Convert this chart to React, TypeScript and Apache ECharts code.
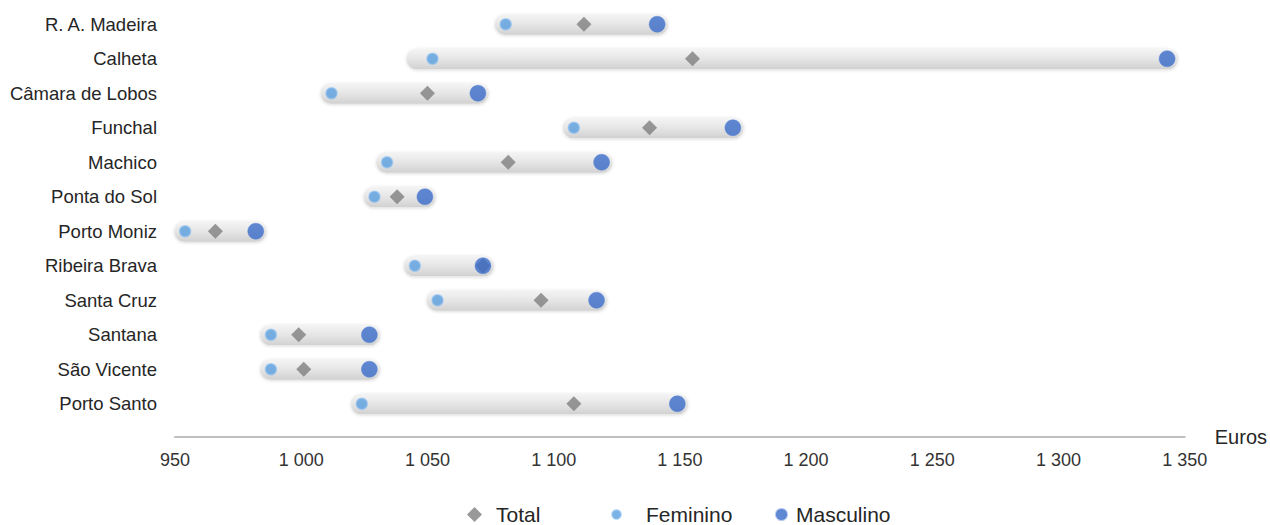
import React, { useEffect, useRef } from "react";
import * as echarts from "echarts";

const categories = [
  "R. A. Madeira",
  "Calheta",
  "Câmara de Lobos",
  "Funchal",
  "Machico",
  "Ponta do Sol",
  "Porto Moniz",
  "Ribeira Brava",
  "Santa Cruz",
  "Santana",
  "São Vicente",
  "Porto Santo",
];

const totalValues = [1112, 1155, 1050, 1138, 1082, 1038, 966, 1072, 1095, 999, 1001, 1108];
const femininoValues = [1081, 1052, 1012, 1108, 1034, 1029, 954, 1045, 1054, 988, 988, 1024];
const masculinoValues = [1141, 1343, 1070, 1171, 1119, 1049, 982, 1072, 1117, 1027, 1027, 1149];

// range band (grey capsule) start / end
const rangeLow = [1081, 1046, 1012, 1108, 1034, 1029, 954, 1045, 1054, 988, 988, 1024];
const rangeHigh = [1141, 1343, 1070, 1171, 1119, 1049, 982, 1072, 1117, 1027, 1027, 1149];

const xTicks = { min: 950, max: 1350, interval: 50 };

const FONT = "'Liberation Sans', Arial, sans-serif";

function fmt(v: number): string {
  if (v >= 1000) {
    return Math.floor(v / 1000) + " " + String(v % 1000).padStart(3, "0");
  }
  return String(v);
}

function legendItem(name: string, icon: string, size: number, left: number, gap: number) {
  return {
    data: [{ name, icon }],
    left,
    top: 504,
    padding: 0,
    itemWidth: size,
    itemHeight: size,
    formatter: (n: string) => `{g| }{t|${n}}`,
    textStyle: {
      fontFamily: FONT,
      rich: {
        g: { width: gap, fontSize: 21 },
        t: { fontSize: 21, color: "#262626", fontFamily: FONT },
      },
    },
  };
}

export default function App() {
  const ref = useRef<HTMLDivElement>(null);

  useEffect(() => {
    document.body.style.margin = "0";
    if (!ref.current) return;
    const chart = echarts.init(ref.current, null, { renderer: "svg" });

    const bandData = categories.map((_, i) => [i, rangeLow[i], rangeHigh[i]]);

    const option: any = {
      animation: false,
      textStyle: { fontFamily: FONT },
      grid: { left: 175, right: 85, top: 7, bottom: 104, containLabel: false },
      xAxis: {
        type: "value",
        min: xTicks.min,
        max: xTicks.max,
        interval: xTicks.interval,
        offset: 16,
        name: "Euros",
        nameLocation: "end",
        nameGap: 30,
        nameTextStyle: { fontSize: 20, color: "#262626", fontFamily: FONT },
        axisLine: { show: true, lineStyle: { color: "#bfbfbf", width: 2 } },
        axisTick: { show: false },
        splitLine: { show: false },
        axisLabel: {
          fontSize: 18,
          color: "#333333",
          margin: 14,
          fontFamily: FONT,
          formatter: (v: number) => fmt(v),
        },
      },
      yAxis: {
        type: "category",
        data: categories,
        inverse: true,
        axisLine: { show: false },
        axisTick: { show: false },
        splitLine: { show: false },
        axisLabel: { fontSize: 18.5, color: "#262626", margin: 18, fontFamily: FONT },
      },
      legend: [
        legendItem("Total", "diamond", 15, 467, 9),
        legendItem("Feminino", "circle", 9, 611, 20),
        legendItem("Masculino", "circle", 11, 775, 4),
      ],
      series: [
        {
          name: "band",
          type: "custom",
          silent: true,
          encode: { x: [1, 2], y: 0 },
          data: bandData,
          renderItem: (params: any, api: any) => {
            const idx = api.value(0);
            const p1 = api.coord([api.value(1), idx]);
            const p2 = api.coord([api.value(2), idx]);
            const h = 21;
            const pad = 11;
            return {
              type: "rect",
              shape: {
                x: p1[0] - pad,
                y: p1[1] - h / 2,
                width: p2[0] - p1[0] + pad * 2,
                height: h,
                r: h / 2,
              },
              style: {
                fill: new echarts.graphic.LinearGradient(0, 0, 0, 1, [
                  { offset: 0, color: "#f5f5f5" },
                  { offset: 0.5, color: "#e6e6e6" },
                  { offset: 1, color: "#d1d1d1" },
                ]),
                shadowBlur: 3,
                shadowOffsetY: 1,
                shadowColor: "rgba(0,0,0,0.15)",
              },
            };
          },
          z: 1,
        },
        {
          name: "Total",
          type: "scatter",
          symbol: "diamond",
          symbolSize: [15, 15],
          itemStyle: { color: "#7f7f7f" },
          data: totalValues.map((v, i) => [v, categories[i]]),
          z: 2,
        },
        {
          name: "Feminino",
          type: "scatter",
          symbol: "circle",
          symbolSize: 11,
          itemStyle: {
            color: "#5a9fe0",
            borderColor: "rgba(140,190,240,0.7)",
            borderWidth: 1.5,
          },
          data: femininoValues.map((v, i) => [v, categories[i]]),
          z: 3,
        },
        {
          name: "Masculino",
          type: "scatter",
          symbol: "circle",
          symbolSize: 16,
          itemStyle: {
            color: "#3a6bc8",
            borderColor: "rgba(85,130,215,0.55)",
            borderWidth: 1,
          },
          data: masculinoValues.map((v, i) => [v, categories[i]]),
          z: 4,
        },
      ],
    };

    chart.setOption(option);
    return () => chart.dispose();
  }, []);

  return <div ref={ref} style={{ width: 1270, height: 525 }} />;
}
